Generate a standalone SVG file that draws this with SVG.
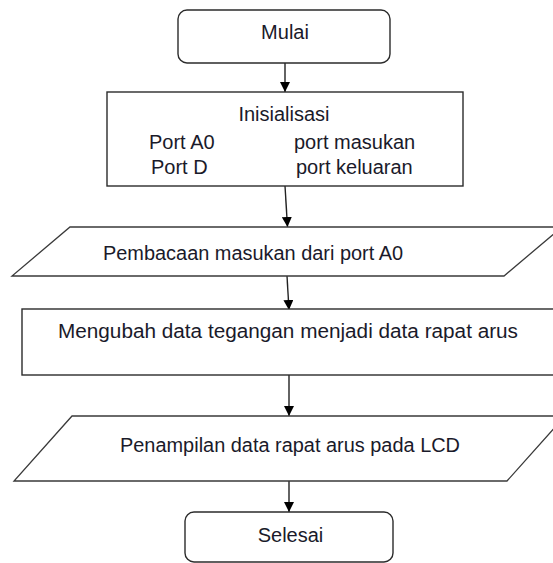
<svg xmlns="http://www.w3.org/2000/svg" width="553" height="563" viewBox="0 0 553 563">
<defs>
<style>
.shape{fill:#ffffff;stroke:#2b2b2b;stroke-width:1.4}
.io{fill:#ffffff;stroke:#3a3a3a;stroke-width:1.3}
.lbl{font-family:"Liberation Sans",Arial,sans-serif;font-size:20px;fill:#1a1a2a}
.c{text-anchor:middle}
.edge{stroke:#222;stroke-width:1.4;fill:none;marker-end:url(#arrow)}
</style>
<marker id="arrow" viewBox="0 0 10 10" refX="10" refY="5" markerWidth="10" markerHeight="10" markerUnits="userSpaceOnUse" orient="auto">
<path d="M0,0 L10,5 L0,10 Z" fill="#000"/>
</marker>
</defs>
<rect width="553" height="563" fill="#ffffff"/>
<g id="connectors">
<line class="edge" x1="285" y1="63" x2="285" y2="92"/>
<line class="edge" x1="285" y1="186" x2="287.5" y2="227"/>
<line class="edge" x1="287" y1="276" x2="289" y2="310"/>
<line class="edge" x1="289" y1="375" x2="289" y2="416"/>
<line class="edge" x1="289" y1="481" x2="289" y2="512"/>
</g>
<g id="mulai">
<rect class="shape" x="178" y="10" width="212" height="53" rx="9" ry="9"/>
<text class="lbl c" x="285" y="39">Mulai</text>
</g>
<g id="inisialisasi">
<rect class="shape" x="107" y="92" width="356" height="94"/>
<text class="lbl c" x="284" y="121">Inisialisasi</text>
<text class="lbl" x="149" y="149">Port A0</text>
<text class="lbl" x="294" y="149">port masukan</text>
<text class="lbl" x="151" y="174">Port D</text>
<text class="lbl" x="296" y="174">port keluaran</text>
</g>
<g id="pembacaan">
<polygon class="io" points="70,227 562,227 504,276 12,276"/>
<text class="lbl" x="103" y="260" textLength="300" lengthAdjust="spacingAndGlyphs">Pembacaan masukan dari port A0</text>
</g>
<g id="mengubah">
<rect class="shape" x="22" y="309" width="540" height="66"/>
<text class="lbl" x="58" y="338" textLength="460" lengthAdjust="spacingAndGlyphs">Mengubah data tegangan menjadi data rapat arus</text>
</g>
<g id="penampilan">
<polygon class="io" points="72,416 565,416 507,481 14,481"/>
<text class="lbl" x="120" y="452" textLength="340" lengthAdjust="spacingAndGlyphs">Penampilan data rapat arus pada LCD</text>
</g>
<g id="selesai">
<rect class="shape" x="185" y="512" width="208" height="50" rx="9" ry="9"/>
<text class="lbl c" x="290.5" y="542">Selesai</text>
</g>
</svg>
